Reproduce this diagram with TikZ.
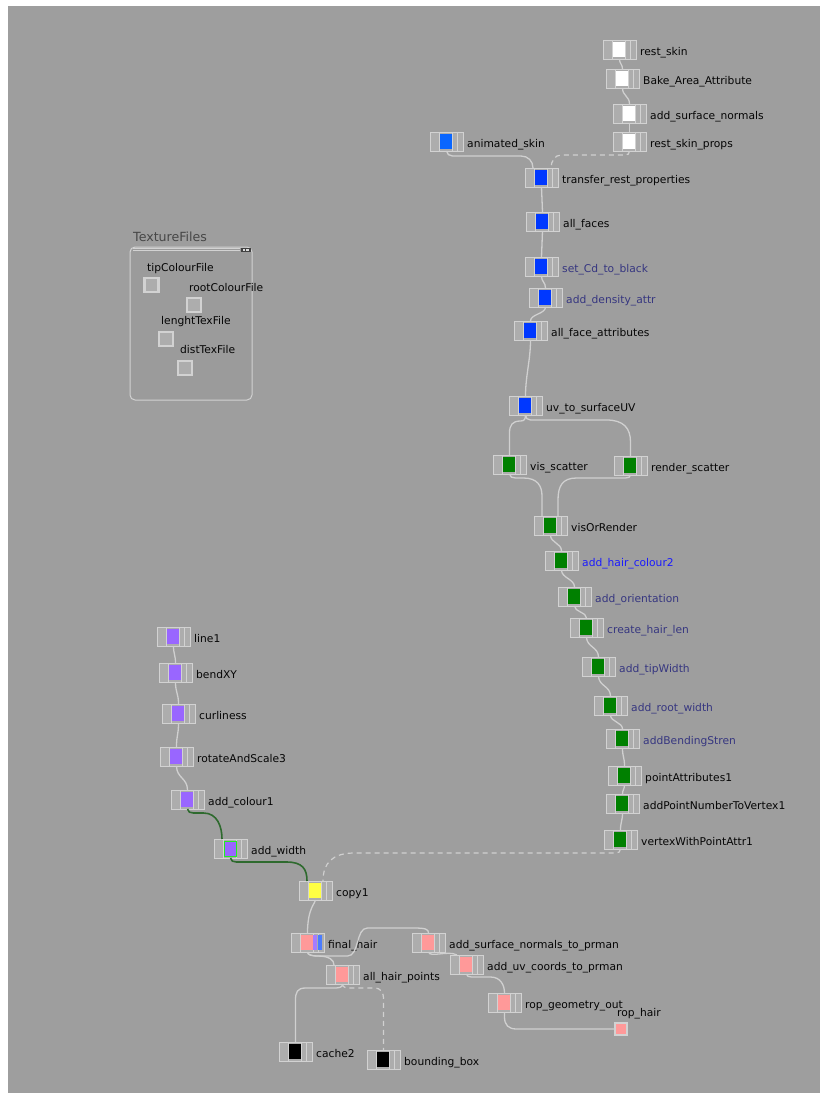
\documentclass[tikz,border=0pt]{standalone}
\usepackage{fontspec}
\setmainfont{DejaVu Sans}
\usetikzlibrary{calc}

\definecolor{canvas}{HTML}{9E9E9E}
\definecolor{panelfill}{HTML}{9B9B9B}
\definecolor{edge}{HTML}{D2D2D2}
\definecolor{tilefill}{HTML}{ADADAD}
\definecolor{wirecol}{HTML}{D0D0D0}
\definecolor{selwire}{HTML}{2E6A2E}
\definecolor{txt}{HTML}{050505}
\definecolor{slate}{HTML}{363680}
\definecolor{brightblue}{HTML}{1A1AFF}
\definecolor{sqwhite}{HTML}{FFFFFF}
\definecolor{sqblue}{HTML}{0038FF}
\definecolor{sqlblue}{HTML}{0A66FF}
\definecolor{sqgreen}{HTML}{008000}
\definecolor{sqpurple}{HTML}{9966FF}
\definecolor{sqyellow}{HTML}{FFFF44}
\definecolor{sqpink}{HTML}{FF9999}
\definecolor{sqblack}{HTML}{000000}
\definecolor{flagpurple}{HTML}{A57CFF}
\definecolor{flagblue}{HTML}{4A7CFF}
\definecolor{selgreen}{HTML}{22EE22}

\tikzset{
  tile/.style={draw=edge, fill=tilefill, line width=1pt, minimum width=33pt,
    minimum height=19pt, inner sep=0pt, outer sep=0pt},
  seg/.style={draw=edge, line width=0.8pt},
  lbl/.style={font=\fontsize{10.7}{12}\selectfont, inner sep=0pt, anchor=base west},
  wire/.style={draw=wirecol, line width=1.3pt},
  selected/.style={draw=selwire, line width=1.6pt},
  dashwire/.style={draw=wirecol, line width=1.2pt, dash pattern=on 5pt off 4pt},
  slot/.style={draw=edge, fill=tilefill, line width=2.4pt, minimum size=14pt,
    inner sep=0pt},
}

% one operator tile: name, left, top, square colour, label, label colour
\newcommand\optile[6]{%
  \node[tile] (#1) at (#2+16.5,#3+9.5) {};
  \draw[seg] (#2+9.5,#3) -- (#2+9.5,#3+19);
  \draw[seg] (#2+22.5,#3) -- (#2+22.5,#3+19);
  \draw[seg] (#2+27.5,#3) -- (#2+27.5,#3+19);
  \fill[#4] (#2+10,#3+2) rectangle (#2+22,#3+17);
  \node[lbl,text=#6] (#1-t) at (#2+37,#3+15) {#5};
  \coordinate (#1-o) at (#2+16.5,#3+19);
  \coordinate (#1-i) at (#2+16.5,#3);
}
% simple S-shaped wire between two tiles
\newcommand\link[4][wire]{\draw[#1] (#2) .. controls +(0,#4) and +(0,-#4) .. (#3);}

\begin{document}
\begin{tikzpicture}[x=1pt,y=-1pt]
\useasboundingbox (0,0) rectangle (820,1093);
\fill[white] (0,0) rectangle (820,1093);
\fill[canvas] (8,6) rectangle (820,1093);

% ---------- texture files network box ----------
\draw[draw=edge, fill=panelfill, line width=1pt, rounded corners=5pt] (130,247) rectangle (252,400);
\fill[edge] (133,248.3) rectangle (240,251.3);
\fill[panelfill] (133,249.3) rectangle (240,250.3);
\fill[black!75] (241,248) rectangle (251,252);
\fill[white!85!black] (242.5,249.2) rectangle (244.8,250.8);
\fill[white!85!black] (246.2,249.2) rectangle (248.5,250.8);
\node[anchor=base west, inner sep=0pt, font=\fontsize{12.6}{14}\selectfont, text=black!72] (texfiles) at (133,241) {TextureFiles};
\node[lbl,text=txt] (tipl) at (147,271) {tipColourFile};
\node[slot] (tipslot) at (151.5,285) {};
\node[lbl,text=txt] (rootl) at (189,291) {rootColourFile};
\node[slot] (rootslot) at (194,305) {};
\node[lbl,text=txt] (lenl) at (161,324) {lenghtTexFile};
\node[slot] (lenslot) at (166,339) {};
\node[lbl,text=txt] (distl) at (180,353) {distTexFile};
\node[slot] (distslot) at (185,368) {};

% ---------- skin branch ----------
\optile{restskin}{603}{40}{sqwhite}{rest\_skin}{txt}
\optile{bake}{606}{69}{sqwhite}{Bake\_Area\_Attribute}{txt}
\optile{asn}{613}{104}{sqwhite}{add\_surface\_normals}{txt}
\optile{rsp}{613}{132}{sqwhite}{rest\_skin\_props}{txt}
\optile{anim}{430}{132}{sqlblue}{animated\_skin}{txt}
\optile{transfer}{525}{168}{sqblue}{transfer\_rest\_properties}{txt}
\coordinate (transfer-i1) at (533,168);
\coordinate (transfer-i2) at (551,168);
\optile{allfaces}{526}{212}{sqblue}{all\_faces}{txt}
\optile{setcd}{525}{257}{sqblue}{set\_Cd\_to\_black}{slate}
\optile{density}{529}{288}{sqblue}{add\_density\_attr}{slate}
\optile{afa}{514}{321}{sqblue}{all\_face\_attributes}{txt}
\optile{uv}{509}{396}{sqblue}{uv\_to\_surfaceUV}{txt}

% ---------- scatter branch ----------
\optile{vis}{493}{455}{sqgreen}{vis\_scatter}{txt}
\optile{render}{614}{456}{sqgreen}{render\_scatter}{txt}
\optile{vor}{534}{516}{sqgreen}{visOrRender}{txt}
\coordinate (vor-i1) at (542,516);
\coordinate (vor-i2) at (558,516);
\optile{ahc}{545}{551}{sqgreen}{add\_hair\_colour2}{brightblue}
\optile{ori}{558}{587}{sqgreen}{add\_orientation}{slate}
\optile{chl}{570}{618}{sqgreen}{create\_hair\_len}{slate}
\optile{tip}{582}{657}{sqgreen}{add\_tipWidth}{slate}
\optile{rootw}{594}{696}{sqgreen}{add\_root\_width}{slate}
\optile{bend}{606}{729}{sqgreen}{addBendingStren}{slate}
\optile{pa}{608}{766}{sqgreen}{pointAttributes1}{txt}
\optile{apn}{606}{794}{sqgreen}{addPointNumberToVertex1}{txt}
\optile{vwp}{604}{830}{sqgreen}{vertexWithPointAttr1}{txt}

% ---------- curve branch ----------
\optile{line}{157}{627}{sqpurple}{line1}{txt}
\optile{bendxy}{159}{663}{sqpurple}{bendXY}{txt}
\optile{curl}{162}{704}{sqpurple}{curliness}{txt}
\optile{ras}{160}{747}{sqpurple}{rotateAndScale3}{txt}
\optile{acol}{171}{790}{sqpurple}{add\_colour1}{txt}
\optile{aw}{214}{839}{sqpurple}{add\_width}{txt}
\draw[selgreen, line width=1pt] (224,841) rectangle (236,856);
\coordinate (aw-i1) at (222,839);

% ---------- output branch ----------
\optile{copy}{299}{881}{sqyellow}{copy1}{txt}
\coordinate (copy-i1) at (307,881);
\coordinate (copy-i2) at (323,881);
\optile{fh}{291}{933}{sqpink}{final\_hair}{txt}
\fill[flagpurple] (313,935) rectangle (316.5,950);
\fill[flagblue] (317.5,935) rectangle (321.5,950);
\optile{asnp}{412}{933}{sqpink}{add\_surface\_normals\_to\_prman}{txt}
\optile{auv}{450}{955}{sqpink}{add\_uv\_coords\_to\_prman}{txt}
\coordinate (auv-i1) at (457,955);
\optile{ahp}{326}{965}{sqpink}{all\_hair\_points}{txt}
\coordinate (ahp-i1) at (334,965);
\optile{rgo}{488}{993}{sqpink}{rop\_geometry\_out}{txt}
\optile{cache}{279}{1042}{sqblack}{cache2}{txt}
\optile{bbox}{367}{1050}{sqblack}{bounding\_box}{txt}
\node[draw=edge, fill=sqpink, line width=1.6pt, minimum size=12pt, inner sep=0pt] (rophair) at (621,1029) {};
\node[lbl,text=txt] (rophair-t) at (617,1016) {rop\_hair};

% ---------- wires ----------
\link{restskin-o}{bake-i}{5}
\link{bake-o}{asn-i}{8}
\link{asn-o}{rsp-i}{4}
\draw[dashwire] (rsp-o) .. controls +(0,3) and +(2,0) .. ++(-4,4) -- ++(-64.5,0)
  .. controls +(-6,0) and +(0,-7) .. (transfer-i2);
\draw[wire] (anim-o) .. controls +(0,3) and +(-3,0) .. ++(6,5) -- ++(68.5,0)
  .. controls +(7,0) and +(0,-7) .. (transfer-i1);
\link{transfer-o}{allfaces-i}{12}
\link{allfaces-o}{setcd-i}{13}
\link{setcd-o}{density-i}{6}
\link{density-o}{afa-i}{7}
\link{afa-o}{uv-i}{20}
\draw[wire] (uv-o) .. controls +(0,4) and +(4,0) .. ++(-5,6)
  .. controls +(-8,0) and +(0,-8) .. ++(-11,12) -- (vis-i);
\draw[wire] (uv-o) .. controls +(0,3) and +(-3,0) .. ++(5,5) -- ++(76,0)
  .. controls +(17,0) and +(0,-14) .. ++(24,22) -- (render-i);
\draw[wire] (vis-o) .. controls +(0,3) and +(-3,0) .. ++(6,4) -- ++(8,0)
  .. controls +(14,0) and +(0,-10) .. ++(18.5,18) -- (vor-i1);
\draw[wire] (render-o) .. controls +(0,2) and +(3,0) .. ++(-5,3) -- ++(-49,0)
  .. controls +(-14,0) and +(0,-14) .. ++(-18.5,22) -- (vor-i2);
\link{vor-o}{ahc-i}{8}
\link{ahc-o}{ori-i}{8}
\link{ori-o}{chl-i}{6}
\link{chl-o}{tip-i}{10}
\link{tip-o}{rootw-i}{10}
\link{rootw-o}{bend-i}{7}
\link{bend-o}{pa-i}{9}
\link{pa-o}{apn-i}{4}
\link{apn-o}{vwp-i}{8}
\draw[dashwire] (vwp-o) .. controls +(0,3) and +(3,0) .. ++(-5,4) -- ++(-261,0)
  .. controls +(-22,0) and +(0,-18) .. (copy-i2);

\link{line-o}{bendxy-i}{8}
\link{bendxy-o}{curl-i}{11}
\link{curl-o}{ras-i}{12}
\link{ras-o}{acol-i}{12}
\draw[selected] (acol-o) .. controls +(0,3) and +(-3,0) .. ++(6,4) -- ++(10,0)
  .. controls +(14,0) and +(0,-12) .. (aw-i1);
\draw[selected] (aw-o) .. controls +(0,3) and +(-3,0) .. ++(6,4) -- ++(50,0)
  .. controls +(16,0) and +(0,-12) .. (copy-i1);

\draw[wire] (copy-o) .. controls +(0,3) and +(0,-25) .. (fh-i);
\draw[wire] (fh-o) .. controls +(0,3) and +(-5,0) .. ++(10,4)
  .. controls +(12,0) and +(0,-5) .. (ahp-i1);
\draw[wire] (fh-o) .. controls +(0,3) and +(-5,0) .. ++(10,4) -- ++(30,0)
  .. controls +(12,0) and +(-12,0) .. ++(20,-28) -- ++(46,0)
  .. controls +(12,0) and +(0,-4) .. (asnp-i);
\draw[wire] (asnp-o) .. controls +(1.5,6) and +(-9,-5) .. (auv-i1);
\draw[wire] (auv-o) .. controls +(0,2) and +(-3,0) .. ++(5,3) -- ++(19,0)
  .. controls +(10,0) and +(0,-8) .. (rgo-i);
\draw[wire] (rgo-o) -- ++(0,5) .. controls +(0,8) and +(-8,0) .. ++(12,12) -- (rophair.west);
\draw[wire] (ahp-o) .. controls +(0,4) and +(6,0) .. ++(-10,4) -- ++(-27,0)
  .. controls +(-8,0) and +(0,-8) .. ++(-10,12) -- (cache-i);
\draw[dashwire] (ahp-o) .. controls +(0,4) and +(-6,0) .. ++(10,4) -- ++(21,0)
  .. controls +(8,0) and +(0,-8) .. ++(10,12) -- (bbox-i);
\end{tikzpicture}
\end{document}
